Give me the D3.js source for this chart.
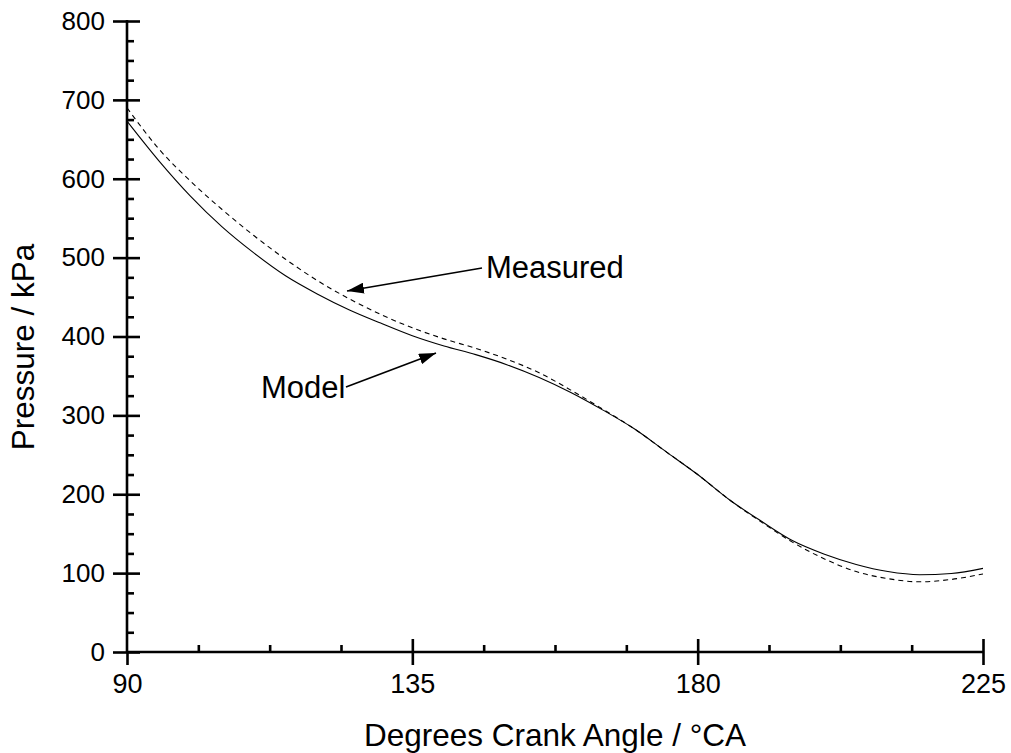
<!DOCTYPE html>
<html>
<head>
<meta charset="utf-8">
<script src="https://cdn.jsdelivr.net/npm/d3@7"></script>
<style>
  html, body { margin: 0; padding: 0; background: #fff; }
  svg { display: block; font-family: Arial, "Liberation Sans", Helvetica, sans-serif; }
</style>
</head>
<body>
<svg id="chart" width="1011" height="753"></svg>
<script>
// Crank angle (°CA) at which pressures are sampled
const angles = [90, 95, 100, 105, 110, 115, 120, 125, 130, 135, 140, 145, 150, 155, 160,
                165, 170, 175, 180, 185, 190, 195, 200, 205, 210, 215, 220, 225];
// Cylinder pressure from the model (kPa)
const modelPressure = [673, 623, 578, 539, 506, 477, 454, 434, 417, 401, 388, 377, 364, 348, 329,
                       307, 283, 254, 225, 193, 166, 141, 124, 111, 102, 98, 99.5, 106];
// Measured cylinder pressure (kPa)
const measuredPressure = [690, 638, 597, 561, 528, 498, 471, 448, 428, 411, 397, 385, 371, 354, 332,
                          308, 283, 254, 225, 193, 165, 139, 118, 102, 93, 89, 92, 99];

const xMajor = [90, 135, 180, 225];
const xMinor = [101.25, 112.5, 123.75, 146.25, 157.5, 168.75, 191.25, 202.5, 213.75];
const yMajor = [0, 100, 200, 300, 400, 500, 600, 700, 800];
const yMinor = [25, 50, 75, 125, 150, 175, 225, 250, 275, 325, 350, 375, 425, 450, 475,
                525, 550, 575, 625, 650, 675, 725, 750, 775];

const svg = d3.select("#chart");

const x = d3.scaleLinear().domain([90, 225]).range([127, 983]);
const y = d3.scaleLinear().domain([0, 800]).range([652, 21]);

const axisStroke = 2.6;

function styleAxis(g, size) {
  g.selectAll("path.domain").remove();
  g.selectAll(".tick line").attr("stroke", "#000").attr("stroke-width", axisStroke);
  g.selectAll(".tick text").attr("fill", "#000").attr("font-size", size || 24)
    .attr("font-family", "Arial, 'Liberation Sans', sans-serif");
}

// Y axis: majors crossing the axis, minors inside
const yAxisG = svg.append("g").attr("transform", `translate(${x(90)},0)`);
yAxisG.append("g").call(d3.axisLeft(y).tickValues(yMajor).tickSize(14).tickPadding(8)
  .tickFormat(d3.format("d"))).call(styleAxis, 26);
yAxisG.append("g").call(d3.axisRight(y).tickValues(yMajor).tickSize(13).tickFormat(""))
  .call(styleAxis);
yAxisG.append("g").call(d3.axisRight(y).tickValues(yMinor).tickSize(7).tickFormat(""))
  .call(styleAxis);
yAxisG.append("line")
  .attr("x1", 0).attr("x2", 0).attr("y1", y(0) + 1).attr("y2", y(800) - 1)
  .attr("stroke", "#000").attr("stroke-width", axisStroke);

// X axis: majors crossing the axis, minors inside
const xAxisG = svg.append("g").attr("transform", `translate(0,${y(0)})`);
xAxisG.append("g").call(d3.axisBottom(x).tickValues(xMajor).tickSize(13).tickPadding(9)
  .tickFormat(d3.format("d"))).call(styleAxis, 27);
xAxisG.append("g").call(d3.axisTop(x).tickValues(xMajor.filter(d => d !== 90)).tickSize(13)
  .tickFormat("")).call(styleAxis);
xAxisG.append("g").call(d3.axisTop(x).tickValues(xMinor).tickSize(7).tickFormat(""))
  .call(styleAxis);
xAxisG.append("line")
  .attr("x1", x(90) - 1).attr("x2", x(225) + 1).attr("y1", 0).attr("y2", 0)
  .attr("stroke", "#000").attr("stroke-width", axisStroke);

// Axis titles
svg.append("text")
  .attr("x", 555).attr("y", 746)
  .attr("text-anchor", "middle").attr("font-size", 31.5).attr("fill", "#000")
  .text("Degrees Crank Angle / °CA");
svg.append("text")
  .attr("transform", "translate(34,347) rotate(-90)")
  .attr("text-anchor", "middle").attr("font-size", 31.5).attr("fill", "#000")
  .text("Pressure / kPa");

// Pressure traces
const line = d3.line()
  .x((d, i) => x(angles[i]))
  .y(d => y(d))
  .curve(d3.curveMonotoneX);

svg.append("path")
  .datum(measuredPressure)
  .attr("d", line)
  .attr("fill", "none").attr("stroke", "#000").attr("stroke-width", 1.1)
  .attr("stroke-dasharray", "5,4");

svg.append("path")
  .datum(modelPressure)
  .attr("d", line)
  .attr("fill", "none").attr("stroke", "#000").attr("stroke-width", 1.1);

// Arrowhead marker for the annotations
svg.append("defs").append("marker")
  .attr("id", "arrowhead")
  .attr("viewBox", "0 0 17 11")
  .attr("refX", 17).attr("refY", 5.5)
  .attr("markerWidth", 17).attr("markerHeight", 11)
  .attr("markerUnits", "userSpaceOnUse")
  .attr("orient", "auto")
  .append("path")
  .attr("d", "M0,0 L17,5.5 L0,11 Z")
  .attr("fill", "#000");

// "Measured" label pointing at the dashed trace
svg.append("text")
  .attr("x", 486).attr("y", 278)
  .attr("font-size", 31).attr("fill", "#000")
  .text("Measured");
svg.append("line")
  .attr("x1", 482).attr("y1", 268)
  .attr("x2", 347).attr("y2", 291)
  .attr("stroke", "#000").attr("stroke-width", 1.6)
  .attr("marker-end", "url(#arrowhead)");

// "Model" label pointing at the solid trace
svg.append("text")
  .attr("x", 261).attr("y", 398)
  .attr("font-size", 31).attr("fill", "#000")
  .text("Model");
svg.append("line")
  .attr("x1", 346).attr("y1", 387)
  .attr("x2", 436).attr("y2", 353)
  .attr("stroke", "#000").attr("stroke-width", 1.6)
  .attr("marker-end", "url(#arrowhead)");
</script>
</body>
</html>
